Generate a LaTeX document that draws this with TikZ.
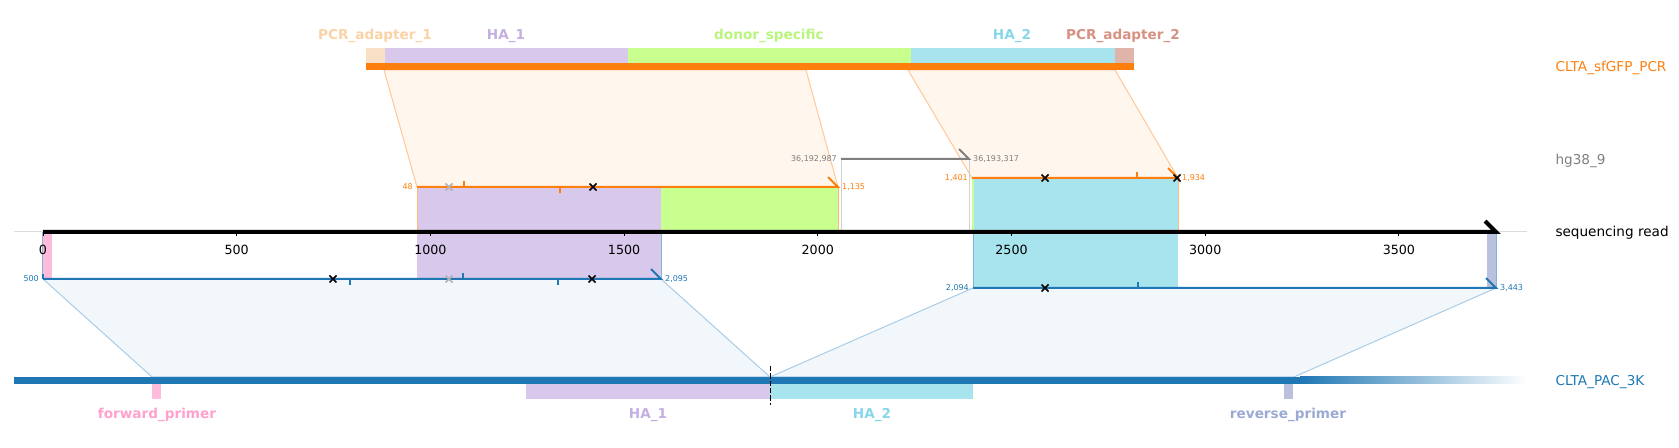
\documentclass[tikz,border=0pt]{standalone}
\usepackage{fontspec}
\setmainfont{DejaVu Sans}

\definecolor{alnOrange}{RGB}{255,127,14}
\definecolor{alnBlue}{RGB}{31,119,180}
\definecolor{alnGrey}{RGB}{127,127,127}
\definecolor{fillHAone}{RGB}{216,200,235}
\definecolor{fillDonor}{RGB}{200,255,143}
\definecolor{fillHAtwo}{RGB}{168,228,238}
\definecolor{fillPCRone}{RGB}{250,224,196}
\definecolor{fillPCRtwo}{RGB}{224,180,168}
\definecolor{fillFwd}{RGB}{255,187,220}
\definecolor{fillRev}{RGB}{186,193,222}
\definecolor{txtPCRone}{RGB}{250,210,165}
\definecolor{txtHAone}{RGB}{195,175,225}
\definecolor{txtDonor}{RGB}{185,245,125}
\definecolor{txtHAtwo}{RGB}{135,215,232}
\definecolor{txtPCRtwo}{RGB}{215,145,130}
\definecolor{txtFwd}{RGB}{255,160,205}
\definecolor{txtRev}{RGB}{155,170,210}

\tikzset{every picture/.style={line width=0.75pt}}
\tikzset{
  featlbl/.style={font=\fontsize{10.2}{12}\selectfont\bfseries, inner sep=0.75pt},
  seqlbl/.style={font=\fontsize{10.2}{12}\selectfont, anchor=west, inner sep=0.75pt},
  ticklbl/.style={font=\fontsize{9.5}{11}\selectfont, inner sep=0.75pt},
  poslbl/.style={font=\fontsize{6}{7}\selectfont, inner sep=0.75pt},
  aln/.style={line width=1.5pt, line join=miter},
  orpoly/.style={fill={rgb,255:red,255;green,246;blue,238}, draw={rgb,255:red,255;green,200;blue,152}},
  blpoly/.style={fill={rgb,255:red,241;green,247;blue,251}, draw={rgb,255:red,170;green,204;blue,230}},
  xmk/.pic={\draw [line width=1.1pt] (-3.5,-3.5) -- (3.5,3.5) (-3.5,3.5) -- (3.5,-3.5);}
}

\begin{document}
\begin{tikzpicture}[x=0.75pt,y=0.75pt,yscale=-1,xscale=1]
\useasboundingbox (0,0) rectangle (1679,448);

%Shape: Polygons between alignments and references
\draw [orpoly] (384,70) -- (806,70) -- (838,187) -- (417,187) -- cycle ;
\draw [orpoly] (908,70) -- (1115,70) -- (1178,178) -- (972,178) -- cycle ;
\draw [blpoly] (43,279) -- (661,279) -- (770,377) -- (152,377) -- cycle ;
\draw [blpoly] (973,288) -- (1496,288) -- (1294,377) -- (770,377) -- cycle ;

%Shape: Rectangles on the read
\fill [fillHAone] (416.5,187) rectangle (660.5,279) ;
\fill [fillDonor] (660.5,187) rectangle (838,232) ;
\fill [fillDonor] (971.5,178) rectangle (973.5,232) ;
\fill [fillHAtwo] (973.5,178) rectangle (1178,288) ;
\fill [fillFwd] (43,232) rectangle (52,279) ;
\fill [fillRev] (1487,232) rectangle (1496,288) ;
%Straight Lines: region edges
\draw [alnOrange!55] (417,187) -- (417,232) (838,187) -- (838,232) (1178,178) -- (1178,232) ;
\draw [alnBlue!55] (42.5,232) -- (42.5,279) (661,232) -- (661,279) (973.5,232) -- (973.5,288) (1496,232) -- (1496,288) ;
\draw [black!18] (841,159) -- (841,232) (969,159) -- (969,232) ;

%Shape: Top reference CLTA_sfGFP_PCR
\fill [fillPCRone] (366,48) rectangle (385,63) ;
\fill [fillHAone] (385,48) rectangle (628,63) ;
\fill [fillDonor] (628,48) rectangle (911,63) ;
\fill [fillHAtwo] (911,48) rectangle (1115,63) ;
\fill [fillPCRtwo] (1115,48) rectangle (1134,63) ;
\fill [alnOrange] (366,63) rectangle (1134,70) ;

%Shape: Bottom reference CLTA_PAC_3K
\fill [alnBlue] (14,377) rectangle (1300,384) ;
\shade [left color=alnBlue, right color=white] (1300,377) rectangle (1527,384) ;
\fill [fillFwd] (152,384) rectangle (161,399) ;
\fill [fillHAone] (526,384) rectangle (770,399) ;
\fill [fillHAtwo] (770,384) rectangle (973,399) ;
\fill [fillRev] (1284,384) rectangle (1293,399) ;
\draw [black, dash pattern=on 4pt off 1.5pt] (770,366) -- (770,405) ;

%Straight Lines: sequencing read axis
\draw [black!14] (14,232) -- (1527,232) ;
\draw [line width=3pt, line join=miter] (43,232) -- (1496,232) -- (1485,221) ;
\draw (43,232) -- (43,236) (236.7,232) -- (236.7,236) (430.4,232) -- (430.4,236) (624.1,232) -- (624.1,236) ;
\draw (817.8,232) -- (817.8,236) (1011.5,232) -- (1011.5,236) (1205.2,232) -- (1205.2,236) (1398.9,232) -- (1398.9,236) ;

% Text Node: tick labels
\node [ticklbl] (t0) at (43,250) {0};
\node [ticklbl] (t500) at (236.7,250) {500};
\node [ticklbl] (t1000) at (430.4,250) {1000};
\node [ticklbl] (t1500) at (624.1,250) {1500};
\node [ticklbl] (t2000) at (817.8,250) {2000};
\node [ticklbl] (t2500) at (1011.5,250) {2500};
\node [ticklbl] (t3000) at (1205.2,250) {3000};
\node [ticklbl] (t3500) at (1398.9,250) {3500};

%Straight Lines: alignments
\coordinate (or1s) at (417,187);
\coordinate (or1e) at (838,187);
\coordinate (or2s) at (972,178);
\coordinate (or2e) at (1178,178);
\coordinate (hgs) at (841,159);
\coordinate (hge) at (969,159);
\coordinate (bl1s) at (43,279);
\coordinate (bl1e) at (661,279);
\coordinate (bl2s) at (973,288);
\coordinate (bl2e) at (1496,288);
\draw [aln, alnOrange] (or1s) -- (or1e) -- ++(-10,-10) ;
\draw [aln, alnOrange] (or2s) -- (or2e) -- ++(-10,-10) ;
\draw [aln, alnGrey] (hgs) -- (hge) -- ++(-10,-10) ;
\draw [aln, alnBlue] (bl1s) -- (bl1e) -- ++(-10,-10) ;
\draw [aln, alnBlue] (bl2s) -- (bl2e) -- ++(-10,-10) ;

%Straight Lines: small ticks on alignments
\draw [line width=1.5pt, alnOrange] (464,187) -- (464,181) (560,187) -- (560,193) (1137,178) -- (1137,172) ;
\draw [line width=1.5pt, alnBlue] (42.5,279) -- (42.5,274) (350,279) -- (350,285) (463,279) -- (463,273) (558,279) -- (558,285) (1138,288) -- (1138,282) ;

%Shape: crosses
\pic [black!30] at (449,187) {xmk};
\pic [black] at (593,187) {xmk};
\pic [black] at (1045,178) {xmk};
\pic [black] at (1177,178) {xmk};
\pic [black] at (333,279) {xmk};
\pic [black!30] at (449,279) {xmk};
\pic [black] at (592,279) {xmk};
\pic [black] at (1045,288) {xmk};

% Text Node: alignment positions
\node [poslbl, text=alnOrange, anchor=east, xshift=-2pt] (p48) at (or1s) {48};
\node [poslbl, text=alnOrange, anchor=west, xshift=2pt] (p1135) at (or1e) {1,135};
\node [poslbl, text=alnOrange, anchor=east, xshift=-2pt] (p1401) at (or2s) {1,401};
\node [poslbl, text=alnOrange, anchor=west, xshift=2pt] (p1934) at (or2e) {1,934};
\node [poslbl, text=alnGrey, anchor=east, xshift=-2pt] (phgs) at (hgs) {36,192,987};
\node [poslbl, text=alnGrey, anchor=west, xshift=2pt] (phge) at (hge) {36,193,317};
\node [poslbl, text=alnBlue, anchor=east, xshift=-2pt] (p500) at (bl1s) {500};
\node [poslbl, text=alnBlue, anchor=west, xshift=2pt] (p2095) at (bl1e) {2,095};
\node [poslbl, text=alnBlue, anchor=east, xshift=-2pt] (p2094) at (bl2s) {2,094};
\node [poslbl, text=alnBlue, anchor=west, xshift=2pt] (p3443) at (bl2e) {3,443};

% Text Node: feature labels
\node [featlbl, text=txtPCRone] (fpcr1) at (375,36) {PCR\_adapter\_1};
\node [featlbl, text=txtHAone] (fha1) at (506,36) {HA\_1};
\node [featlbl, text=txtDonor] (fdonor) at (769,36) {donor\_specific};
\node [featlbl, text=txtHAtwo] (fha2) at (1012,36) {HA\_2};
\node [featlbl, text=txtPCRtwo] (fpcr2) at (1123,36) {PCR\_adapter\_2};
\node [featlbl, text=txtFwd] (ffwd) at (157,415) {forward\_primer};
\node [featlbl, text=txtHAone] (fha1b) at (648,415) {HA\_1};
\node [featlbl, text=txtHAtwo] (fha2b) at (872,415) {HA\_2};
\node [featlbl, text=txtRev] (frev) at (1288,415) {reverse\_primer};

% Text Node: track names
\node [seqlbl, text=alnOrange] (nsfgfp) at (1554,68) {CLTA\_sfGFP\_PCR};
\node [seqlbl, text=alnGrey] (nhg) at (1554,161) {hg38\_9};
\node [seqlbl, text=black] (nread) at (1554,233) {sequencing read};
\node [seqlbl, text=alnBlue] (npac) at (1554,382) {CLTA\_PAC\_3K};

\end{tikzpicture}
\end{document}
